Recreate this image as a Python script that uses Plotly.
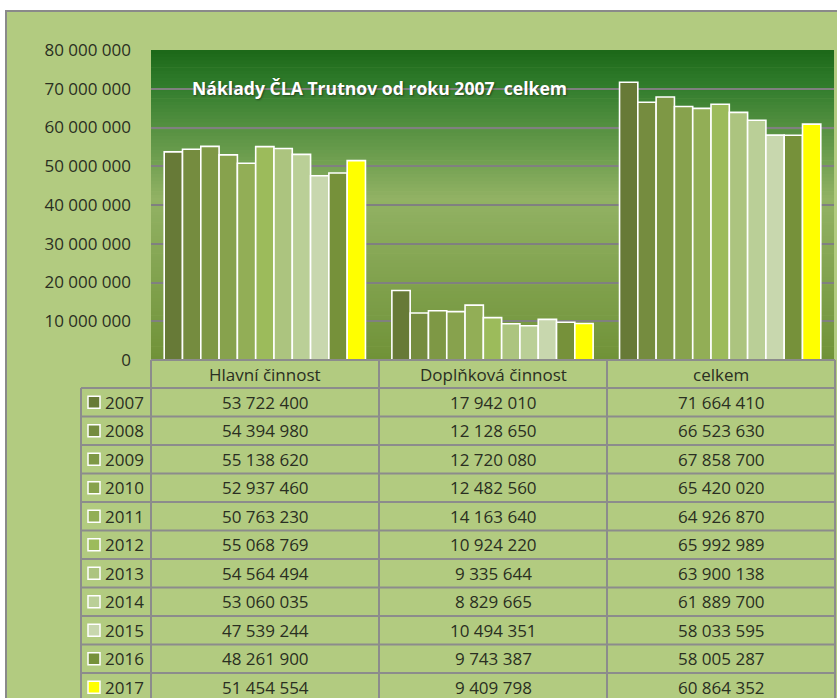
import plotly.graph_objects as go

# ---------------- data ----------------
categories = ["Hlavní činnost", "Doplňková činnost", "celkem"]
years = ["2007", "2008", "2009", "2010", "2011", "2012",
         "2013", "2014", "2015", "2016", "2017"]
hlavni = [53722400, 54394980, 55138620, 52937460, 50763230, 55068769,
          54564494, 53060035, 47539244, 48261900, 51454554]
doplnkova = [17942010, 12128650, 12720080, 12482560, 14163640, 10924220,
             9335644, 8829665, 10494351, 9743387, 9409798]
celkem = [71664410, 66523630, 67858700, 65420020, 64926870, 65992989,
          63900138, 61889700, 58033595, 58005287, 60864352]
series_by_cat = [hlavni, doplnkova, celkem]
y_ticks = [0, 10000000, 20000000, 30000000, 40000000,
           50000000, 60000000, 70000000, 80000000]
title_text = "Náklady ČLA Trutnov od roku 2007  celkem"

# ---------------- style ----------------
year_colors = ["#677A37", "#758C3F", "#7E9845", "#87A24D", "#92AE56", "#9CBB5B",
               "#ACC47F", "#BACF97", "#C8D7AE", "#76913A", "#FFFF00"]
W, H = 837, 698
FONT = "Open Sans"
TXT = "#2A2F22"
GRID = "#808080"
OUTER = "#B2CB80"


def px(x):
    return x / W


def py(y):
    return 1 - y / H


PLOT_L, PLOT_R, PLOT_T, PLOT_B = 151, 834, 50, 360
ROW_H = 28.5
HEAD_B = 388
COLS = [151, 379, 607, 835]
LEG_L = 81

fig = go.Figure()

for i, yr in enumerate(years):
    fig.add_trace(go.Bar(
        name=yr,
        x=categories,
        y=[s[i] for s in series_by_cat],
        marker=dict(color=year_colors[i], line=dict(color="white", width=1.6)),
        showlegend=False,
    ))

shapes = []
# outer chart area
shapes.append(dict(type="rect", xref="paper", yref="paper",
                   x0=px(6), x1=px(W + 20), y0=py(11), y1=py(H + 20),
                   fillcolor=OUTER, line=dict(color="#8A8A8A", width=2),
                   layer="below"))

# plot-area vertical gradient
stops = [(0.0, (28, 104, 24)), (0.12, (50, 125, 45)), (0.48, (146, 178, 100)),
         (1.0, (112, 146, 56))]


def grad(t):
    for (t0, c0), (t1, c1) in zip(stops[:-1], stops[1:]):
        if t0 <= t <= t1:
            f = (t - t0) / (t1 - t0)
            return "rgb(%d,%d,%d)" % tuple(round(a + (b - a) * f) for a, b in zip(c0, c1))
    return "rgb(%d,%d,%d)" % stops[-1][1]


N = 90
for k in range(N):
    t = (k + 0.5) / N
    shapes.append(dict(type="rect", xref="x domain", yref="y domain",
                       x0=0, x1=1, y0=1 - k / N, y1=1 - (k + 1) / N - 0.002,
                       fillcolor=grad(t), line=dict(width=0), layer="below"))

# table lines
LC = "#8C8C8C"
LW = 2
shapes.append(dict(type="line", xref="paper", yref="paper",
                   x0=px(COLS[0]), x1=px(COLS[-1]), y0=py(PLOT_B), y1=py(PLOT_B),
                   line=dict(color=LC, width=LW)))
for i in range(len(years)):
    yy = HEAD_B + i * ROW_H
    shapes.append(dict(type="line", xref="paper", yref="paper",
                       x0=px(LEG_L), x1=px(COLS[-1]), y0=py(yy), y1=py(yy),
                       line=dict(color=LC, width=LW)))
shapes.append(dict(type="line", xref="paper", yref="paper",
                   x0=px(LEG_L), x1=px(LEG_L), y0=py(HEAD_B), y1=py(H + 10),
                   line=dict(color=LC, width=LW)))
for cx in COLS:
    shapes.append(dict(type="line", xref="paper", yref="paper",
                       x0=px(cx), x1=px(cx), y0=py(PLOT_B), y1=py(H + 10),
                       line=dict(color=LC, width=LW)))

annotations = []
# header row
for j, cat in enumerate(categories):
    annotations.append(dict(xref="paper", yref="paper",
                            x=px((COLS[j] + COLS[j + 1]) / 2), y=py((PLOT_B + HEAD_B) / 2),
                            text=cat, showarrow=False, xanchor="center", yanchor="middle",
                            font=dict(family=FONT, size=17, color=TXT)))


def fmt(v):
    return f"{v:,}".replace(",", " ")


for i, yr in enumerate(years):
    top = HEAD_B + i * ROW_H
    cy = top + ROW_H / 2
    # legend key
    shapes.append(dict(type="rect", xref="paper", yref="paper",
                       x0=px(88), x1=px(100), y0=py(cy - 6), y1=py(cy + 6),
                       fillcolor=year_colors[i], line=dict(color="white", width=1.5)))
    annotations.append(dict(xref="paper", yref="paper", x=px(103), y=py(cy),
                            text=yr, showarrow=False, xanchor="left", yanchor="middle",
                            font=dict(family=FONT, size=17, color=TXT)))
    for j, s in enumerate(series_by_cat):
        annotations.append(dict(xref="paper", yref="paper",
                                x=px((COLS[j] + COLS[j + 1]) / 2), y=py(cy),
                                text=fmt(s[i]), showarrow=False,
                                xanchor="center", yanchor="middle",
                                font=dict(family=FONT, size=17, color=TXT)))

# chart title inside plot area
annotations.append(dict(xref="paper", yref="paper", x=px(190), y=py(88),
                        text="<b>" + title_text + "</b>", showarrow=False,
                        xanchor="left", yanchor="middle",
                        font=dict(family=FONT, size=17.6, color="white",
                                  shadow="1px 1px 2px rgba(0,0,0,0.45)")))

fig.update_layout(
    width=W, height=H,
    autosize=False,
    margin=dict(l=0, r=0, t=0, b=0, pad=0, autoexpand=False),
    paper_bgcolor="white",
    plot_bgcolor="rgba(0,0,0,0)",
    barmode="group",
    bargap=0.116,
    bargroupgap=0,
    separators=", ",
    shapes=shapes,
    annotations=annotations,
    xaxis=dict(domain=[px(PLOT_L), px(PLOT_R)], showticklabels=False,
               showgrid=False, zeroline=False, fixedrange=True, automargin=False,
               ticks=""),
    yaxis=dict(domain=[py(PLOT_B), py(PLOT_T)], range=[0, 80000000],
               tickvals=y_ticks, tickformat=",d",
               showgrid=True, gridcolor=GRID, gridwidth=2,
               zeroline=False, showline=False, automargin=False, fixedrange=True,
               ticks="", ticklabelstandoff=19,
               tickfont=dict(family=FONT, size=17, color=TXT)),
    showlegend=False,
)

post = ("document.body.style.margin='0';document.body.style.overflow='hidden';"
        "var d=document.getElementById('{plot_id}');d.style.position='absolute';"
        "d.style.left='0px';d.style.top='0px';")
fig.write_html("out.html", post_script=post, config={"displayModeBar": False})
